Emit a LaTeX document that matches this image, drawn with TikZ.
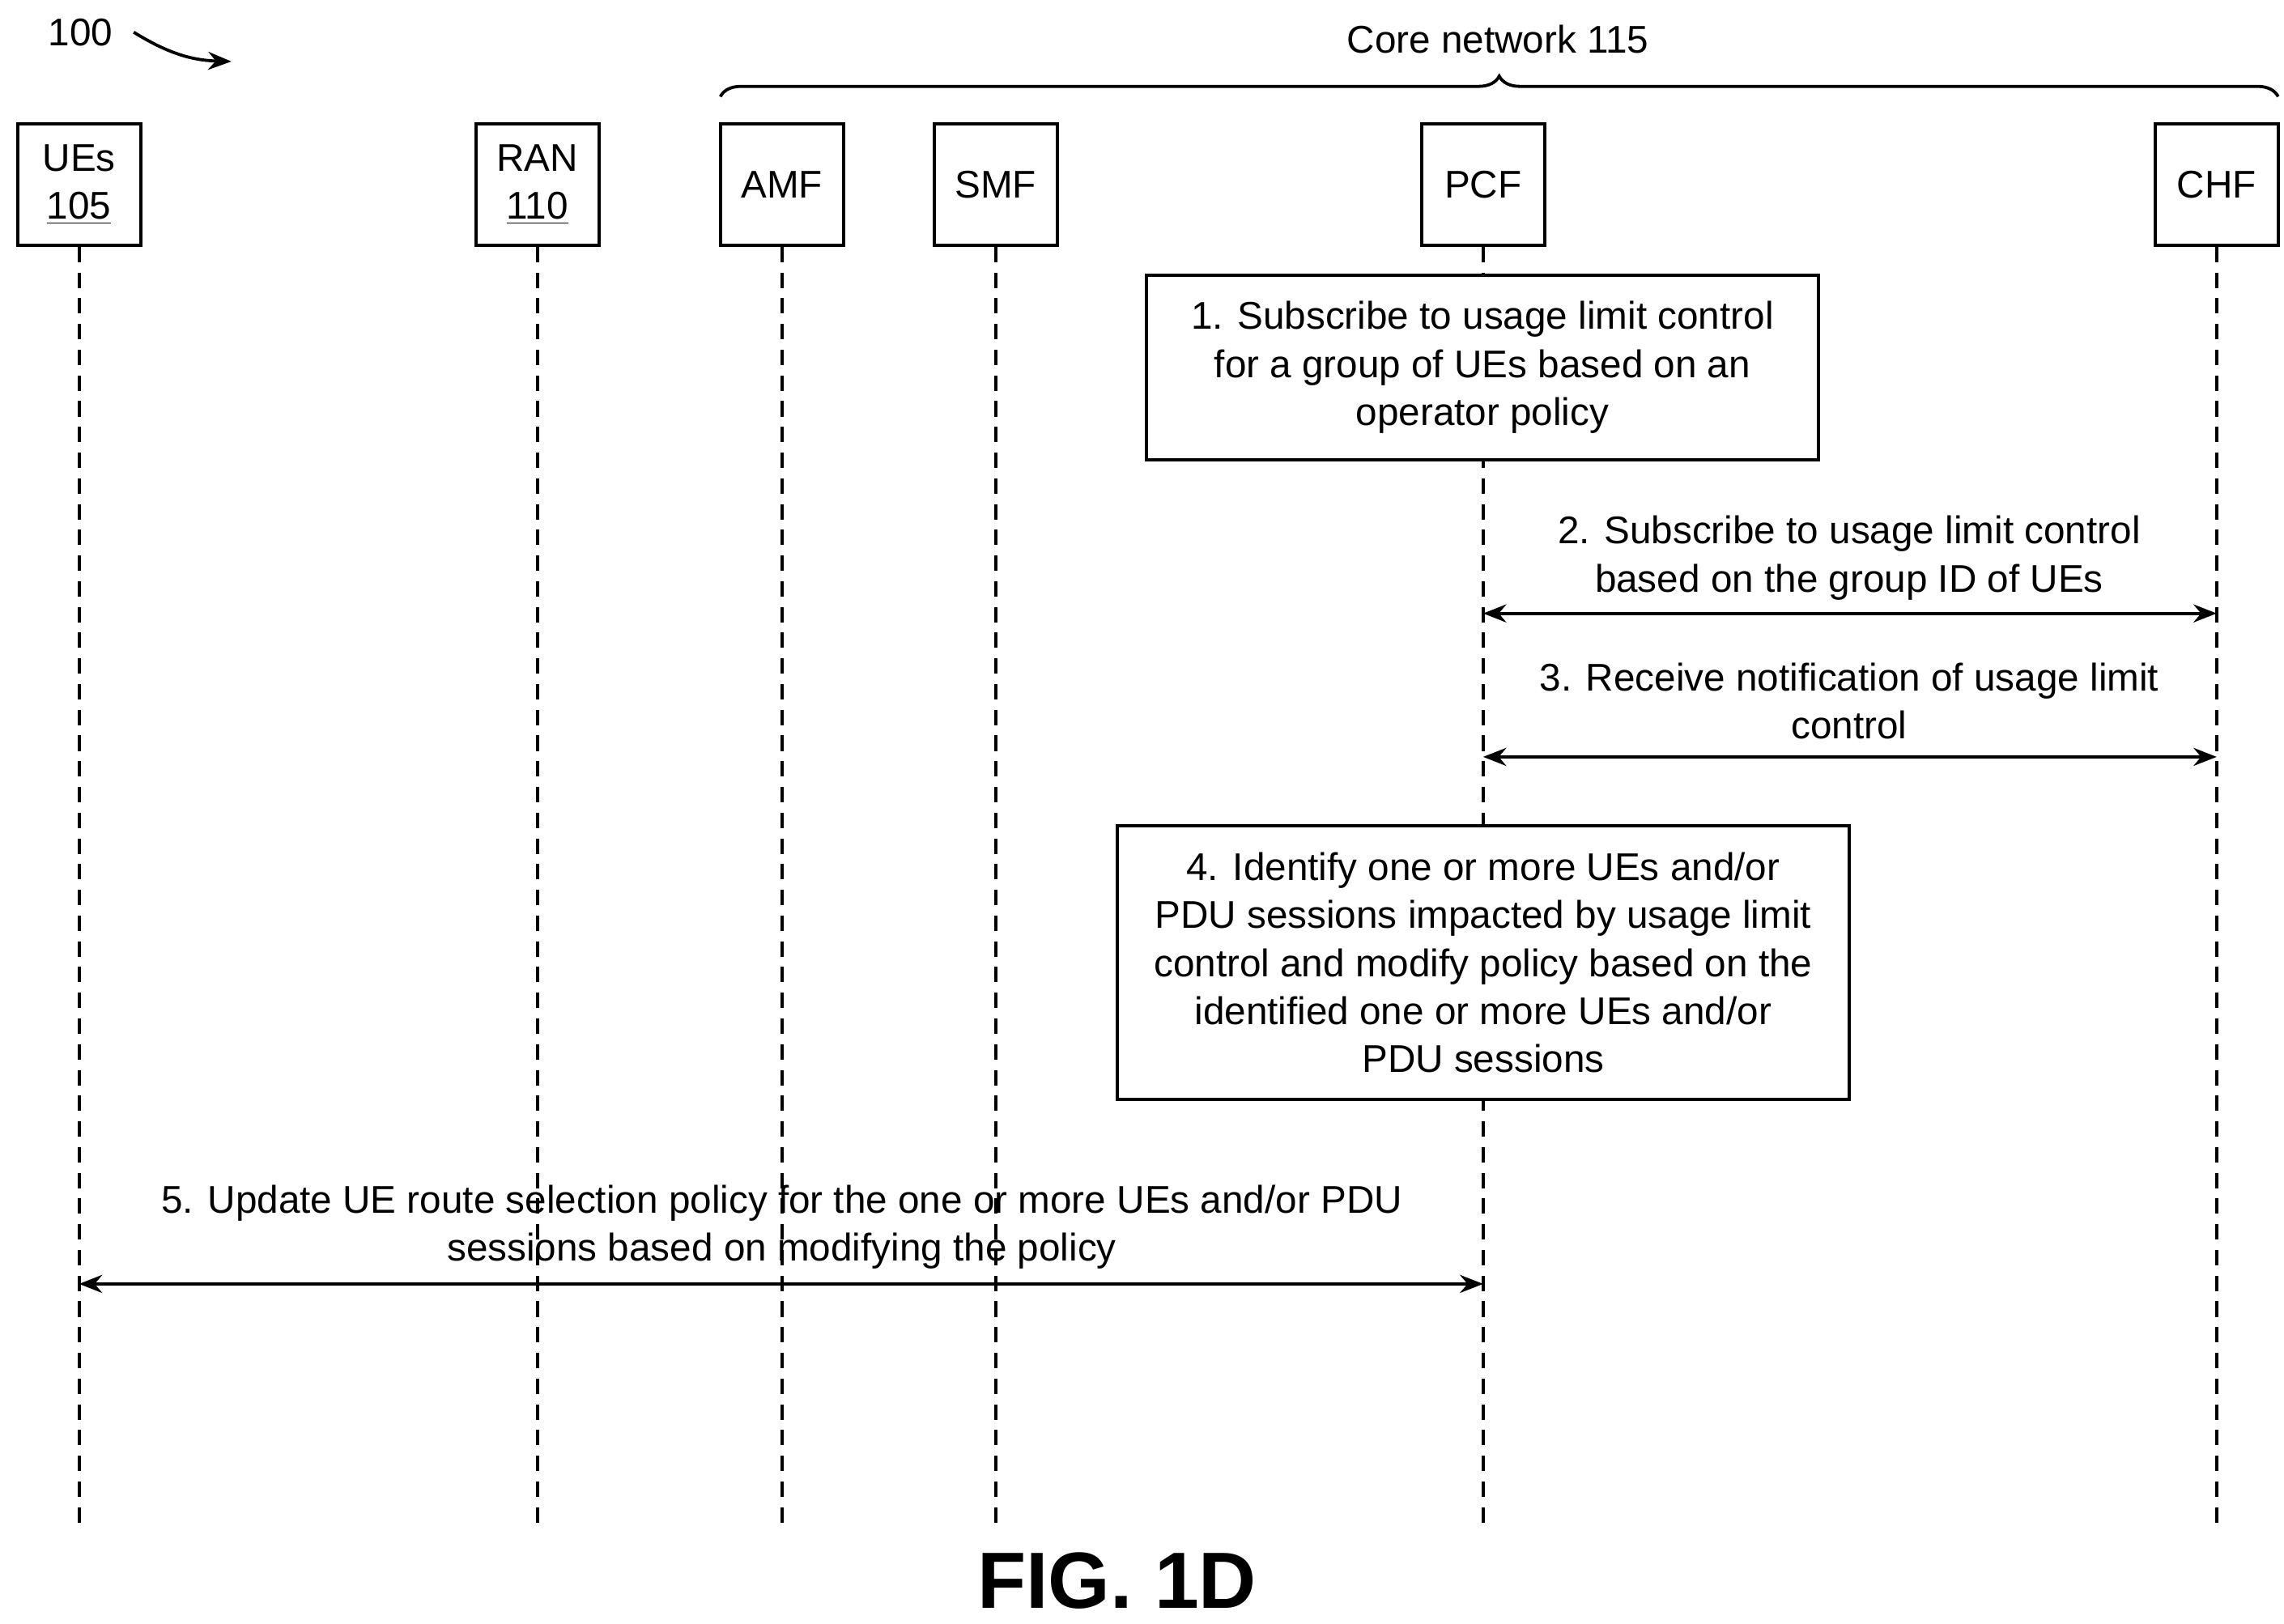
\documentclass[tikz,border=0pt]{standalone}
\usepackage{fontspec}
\setmainfont{Liberation Sans}
\usetikzlibrary{decorations.pathreplacing,arrows.meta}
\newlength{\du}
\setlength{\du}{0.02cm}
\begin{document}
\fontsize{15pt}{18.7pt}\selectfont
\tikzset{
  entity/.style={draw,line width=1.2pt,minimum width=84\du,minimum height=83\du,align=center,inner sep=0pt},
  lifeline/.style={line width=1.2pt,dash pattern=on 6pt off 4pt},
  stepbox/.style={draw,fill=white,line width=1.2pt,align=center,inner sep=0pt},
  msg/.style={line width=1.2pt,{Stealth[length=9pt,width=7pt]}-{Stealth[length=9pt,width=7pt]}},
  lbl/.style={align=center,inner sep=0pt}
}
\begin{tikzpicture}[yscale=-1]
\useasboundingbox (0,0) rectangle (1560\du,1109\du);
% entities
\node[entity] (ue) at (54\du,126\du) {UEs\\\underline{105}};
\node[entity] (ran) at (367\du,126\du) {RAN\\\underline{110}};
\node[entity] (amf) at (534\du,126\du) {AMF};
\node[entity] (smf) at (680\du,126\du) {SMF};
\node[entity] (pcf) at (1013\du,126\du) {PCF};
\node[entity] (chf) at (1514\du,126\du) {CHF};
% lifelines
\foreach \e in {ue,ran,amf,smf,pcf,chf}{
  \coordinate (\e end) at (\e.south |- 0,1045\du);
  \draw[lifeline] (\e.south) -- (\e end);
}
% core network brace
\coordinate (cnl) at (492\du,66\du);
\coordinate (cnr) at (1556\du,66\du);
\draw[line width=1.2pt,decorate,decoration={brace,amplitude=14\du}] (cnl) -- (cnr);
\node[lbl] (cn) at (1023\du,27\du) {Core network 115};
% reference numeral
\node[lbl] (ref) at (55\du,22\du) {100};
\coordinate (refarr) at (158\du,42\du);
\draw[line width=1.2pt,-{Stealth[length=9pt,width=7pt]}] ([xshift=14\du]ref.east) to[bend left=15] (refarr);
% step 1
\node[stepbox,minimum width=459\du,minimum height=126\du] (s1) at (1012.5\du,251\du)
  {1. Subscribe to usage limit control\\for a group of UEs based on an\\operator policy};
% step 2
\coordinate (m2a) at (1013\du,419\du);
\coordinate (m2b) at (1514\du,419\du);
\draw[msg] (m2a) -- (m2b);
\node[lbl] (t2) at (1263\du,381\du) {2. Subscribe to usage limit control\\based on the group ID of UEs};
% step 3
\coordinate (m3a) at (1013\du,517\du);
\coordinate (m3b) at (1514\du,517\du);
\draw[msg] (m3a) -- (m3b);
\node[lbl] (t3) at (1263\du,479\du) {3. Receive notification of usage limit\\control};
% step 4
\node[stepbox,minimum width=500\du,minimum height=187\du] (s4) at (1013\du,657.5\du)
  {4. Identify one or more UEs and/or\\PDU sessions impacted by usage limit\\control and modify policy based on the\\identified one or more UEs and/or\\PDU sessions};
% step 5
\coordinate (m5a) at (54\du,877\du);
\coordinate (m5b) at (1013\du,877\du);
\draw[msg] (m5a) -- (m5b);
\node[lbl] (t5) at (534\du,838\du) {5. Update UE route selection policy for the one or more UEs and/or PDU\\sessions based on modifying the policy};
% caption
\node[lbl,font=\bfseries\fontsize{31pt}{36pt}\selectfont] (fig) at (763\du,1080\du) {FIG. 1D};
\end{tikzpicture}
\end{document}
